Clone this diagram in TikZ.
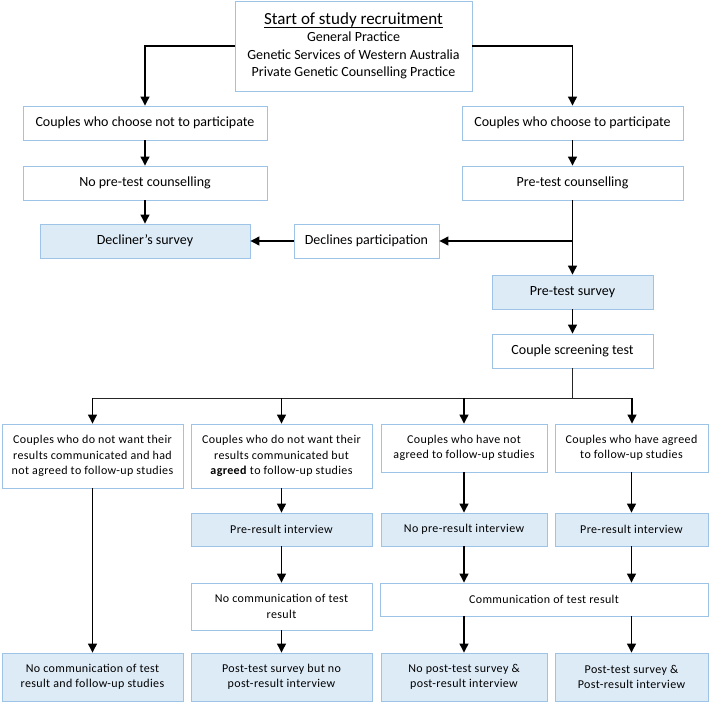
\documentclass[tikz,border=0pt]{standalone}
\usepackage{fontspec}
\setmainfont{Carlito}
\usetikzlibrary{arrows.meta,positioning}
\definecolor{stdyline}{RGB}{157,195,230}
\definecolor{stdyfill}{RGB}{221,235,247}
\newcommand{\stdyul}[1]{\leavevmode\setbox0\hbox{#1}\rlap{\copy0}\vrule width\wd0 height -2.2pt depth 3.6pt}

\begin{document}
\begin{tikzpicture}[x=1pt,y=-1pt,
  box/.style={draw=stdyline, line width=0.9pt, fill=white, align=center,
              inner sep=0pt, font=\fontsize{14}{17}\selectfont},
  sbox/.style={box, fill=stdyfill},
  lowbox/.style={box, font=\fontsize{12}{15.5}\selectfont\addfontfeature{LetterSpace=3}},
  lowsbox/.style={lowbox, fill=stdyfill},
  arr/.style={-{Triangle[length=9pt,width=9pt]}, line width=1.2pt},
  ln/.style={line width=1pt, draw=black!85}]
\useasboundingbox (0,0) rectangle (709,703);
% Start of recruitment
\node[box, minimum width=237, minimum height=90, font=\fontsize{14}{17.5}\selectfont] (start) at (353.5,46)
  {{\fontsize{17}{22}\selectfont\stdyul{Start of study recruitment}}\\
   General Practice\\ Genetic Services of Western Australia\\
   Private Genetic Counselling Practice};
% Decliners
\node[box, minimum width=244, minimum height=34] (notpart) at (145,123) {Couples who choose not to participate};
\node[box, minimum width=244, minimum height=34] (nocouns) at (145,183) {No pre-test counselling};
\node[sbox, minimum width=210, minimum height=34] (declsurv) at (145,241) {Decliner’s survey};
\node[box, minimum width=145, minimum height=34] (declines) at (366.5,241) {Declines participation};
% Participants
\node[box, minimum width=221, minimum height=34] (part) at (572.5,123) {Couples who choose to participate};
\node[box, minimum width=221, minimum height=34] (couns) at (572.5,183) {Pre-test counselling};
\node[sbox, minimum width=161, minimum height=34] (pretest) at (572.5,292) {Pre-test survey};
\node[box, minimum width=161, minimum height=34] (screen) at (572.5,351) {Couple screening test};
\coordinate (dsplit) at (572.5,241);
\coordinate (split) at (572.5,398);
% Four groups
\node[lowbox, minimum width=181, minimum height=64] (grpa) at (92.5,456)
  {Couples who do not want their\\ results communicated and had\\ not agreed to follow-up studies};
\node[lowbox, minimum width=181, minimum height=64] (grpb) at (281.5,456)
  {Couples who do not want their\\ results communicated but\\ \textbf{agreed} to follow-up studies};
\node[lowbox, minimum width=166, minimum height=48] (grpc) at (464,448)
  {Couples who have not\\ agreed to follow-up studies};
\node[lowbox, minimum width=153, minimum height=48] (grpd) at (631.5,448)
  {Couples who have agreed\\ to follow-up studies};
\coordinate (sa) at (92.5,398);
\coordinate (sd) at (632,398);
% Interviews
\node[lowsbox, minimum width=181, minimum height=33] (intb) at (281.5,529.5) {Pre-result interview};
\node[lowsbox, minimum width=166, minimum height=33] (intc) at (464,529.5) {No pre-result interview};
\node[lowsbox, minimum width=153, minimum height=33] (intd) at (631.5,529.5) {Pre-result interview};
% Communication
\node[lowbox, minimum width=181, minimum height=47] (nocomm) at (281.5,606.5) {No communication of test\\ result};
\node[lowbox, minimum width=328, minimum height=33] (comm) at (544,599.5) {Communication of test result};
% Outcomes
\node[lowsbox, minimum width=181, minimum height=48] (outa) at (92.5,677) {No communication of test\\ result and follow-up studies};
\node[lowsbox, minimum width=181, minimum height=48] (outb) at (281.5,677) {Post-test survey but no\\ post-result interview};
\node[lowsbox, minimum width=166, minimum height=48] (outc) at (464,677) {No post-test survey \&\\ post-result interview};
\node[lowsbox, minimum width=153, minimum height=48] (outd) at (631.5,677) {Post-test survey \&\\ Post-result interview};
% Connectors
\draw[arr] (start.west) -| (notpart);
\draw[arr] (start.east) -| (part);
\draw[arr] (notpart) -- (nocouns);
\draw[arr] (nocouns) -- (declsurv);
\draw[arr] (part) -- (couns);
\draw[arr] (couns) -- (pretest);
\draw[arr] (dsplit) -- (declines);
\draw[arr] (declines) -- (declsurv);
\draw[arr] (pretest) -- (screen);
\draw[ln] (screen) -- (split);
\draw[ln] (sa) -- (sd);
\draw[arr] (sa) -- (grpa);
\draw[arr] (grpb |- split) -- (grpb);
\draw[arr] (grpc |- split) -- (grpc);
\draw[arr] (sd) -- (sd |- grpd.north);
\draw[arr] (grpa) -- (outa);
\draw[arr] (grpb) -- (intb);
\draw[arr] (intb) -- (nocomm);
\draw[arr] (nocomm) -- (outb);
\draw[arr] (grpc) -- (intc);
\draw[arr] (grpd) -- (intd);
\draw[arr] (intc) -- (intc |- comm.north);
\draw[arr] (intd) -- (intd |- comm.north);
\draw[arr] (comm.south -| outc) -- (outc);
\draw[arr] (comm.south -| outd) -- (outd);
\end{tikzpicture}
\end{document}
